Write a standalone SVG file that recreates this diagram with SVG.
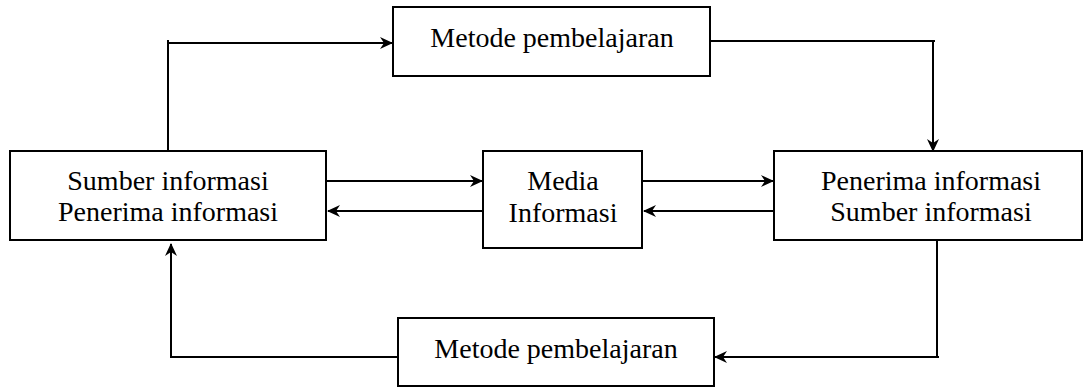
<svg xmlns="http://www.w3.org/2000/svg" width="1083" height="387" viewBox="0 0 1083 387">
<style>
.box{fill:#fff;stroke:#000;stroke-width:2}
.t{font-family:'Liberation Serif','Times New Roman',Times,serif;font-size:28px;fill:#000;text-anchor:middle}
.c{fill:none;stroke:#000;stroke-width:2}
</style>
<defs>
<marker id="ah" markerWidth="14" markerHeight="12" refX="12" refY="6" orient="auto" markerUnits="userSpaceOnUse">
<path d="M0,0 L13,6 L0,12 L4,6 Z" fill="#000"/>
</marker>
</defs>
<rect width="1083" height="387" fill="#fff"/>
<g id="connectors">
<path class="c" d="M168,152 V40"/>
<path class="c" d="M168,43 H392" marker-end="url(#ah)"/>
<path class="c" d="M710,41 H935"/>
<path class="c" d="M933,40 V151" marker-end="url(#ah)"/>
<path class="c" d="M326,181 H482" marker-end="url(#ah)"/>
<path class="c" d="M484,211 H328" marker-end="url(#ah)"/>
<path class="c" d="M642,181 H773" marker-end="url(#ah)"/>
<path class="c" d="M776,211 H644" marker-end="url(#ah)"/>
<path class="c" d="M937,240 V358"/>
<path class="c" d="M939,357 H715" marker-end="url(#ah)"/>
<path class="c" d="M398,357 H170"/>
<path class="c" d="M171,358 V244" marker-end="url(#ah)"/>
</g>
<g id="n-top">
<rect class="box" x="393" y="7" width="317" height="69"/>
<text class="t" x="552" y="47">Metode pembelajaran</text>
</g>
<g id="n-left">
<rect class="box" x="10" y="151" width="316" height="89"/>
<text class="t" x="168" y="190">Sumber informasi</text>
<text class="t" x="168" y="221">Penerima informasi</text>
</g>
<g id="n-media">
<rect class="box" x="483" y="151" width="159" height="97"/>
<text class="t" x="563" y="190">Media</text>
<text class="t" x="563" y="222">Informasi</text>
</g>
<g id="n-right">
<rect class="box" x="774" y="151" width="308" height="89"/>
<text class="t" x="931" y="190">Penerima informasi</text>
<text class="t" x="931" y="221">Sumber informasi</text>
</g>
<g id="n-bottom">
<rect class="box" x="398" y="318" width="316" height="68"/>
<text class="t" x="556" y="358">Metode pembelajaran</text>
</g>
</svg>
